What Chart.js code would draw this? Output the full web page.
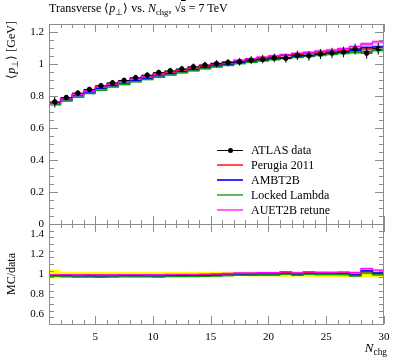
<!DOCTYPE html>
<html><head><meta charset="utf-8">
<script src="https://cdn.jsdelivr.net/npm/chart.js@4.4.1/dist/chart.umd.min.js"></script>
<style>
html,body{margin:0;padding:0;background:#fff;}
#wrap{position:relative;width:397px;height:358px;overflow:hidden;font-family:"Liberation Serif",serif;color:#000;}
canvas{position:absolute;left:0;top:0;}
.t{position:absolute;white-space:nowrap;line-height:1;}
.t sub{font-size:72%;vertical-align:baseline;position:relative;top:0.3em;}
.leg{position:absolute;left:217px;width:26px;height:2px;}
.legt{position:absolute;left:251px;font-size:12px;white-space:nowrap;line-height:1;}
</style></head><body>
<div id="wrap">
<canvas id="top" width="397" height="358"></canvas>
<canvas id="bot" width="397" height="358"></canvas>
<div class="t" style="left:49px;top:2px;font-size:12px;">Transverse ⟨<i>p</i><sub>⊥</sub>⟩ vs. <i>N</i><sub>chg</sub>, √<span style="text-decoration:overline">s</span> = 7 TeV</div>
<div class="t" style="left:5px;top:121px;width:100px;text-align:right;font-size:12px;transform-origin:0 0;transform:rotate(-90deg);">⟨<i>p</i><sub>⊥</sub>⟩ [GeV]</div>
<div class="t" style="left:5px;top:324px;width:100px;text-align:center;font-size:12px;transform-origin:0 0;transform:rotate(-90deg);">MC/data</div>
<div class="t" style="right:10px;top:341px;font-size:13px;"><i>N</i><sub>chg</sub></div>
<div id="legend"></div>
</div>
<script>
// ---- data (bins of N_chg, edges) ----
const nchgEdges = [1,2,3,4,5,6,7,8,9,10,11,12,13,14,15,16,17,18,19,20,21,22,23,24,25,26,27,28,29,30];
const atlasData = [0.763,0.790,0.818,0.841,0.864,0.882,0.897,0.914,0.930,0.946,0.957,0.969,0.982,0.993,1.002,1.009,1.014,1.024,1.030,1.038,1.036,1.054,1.051,1.062,1.069,1.075,1.094,1.068,1.095];
const atlasErr  = [0.035,0.017,0.017,0.017,0.018,0.018,0.018,0.019,0.019,0.019,0.020,0.020,0.021,0.021,0.022,0.023,0.024,0.025,0.026,0.027,0.028,0.029,0.030,0.031,0.032,0.033,0.034,0.035,0.036];
const perugia2011  = [0.757,0.785,0.810,0.833,0.855,0.874,0.891,0.907,0.922,0.936,0.949,0.962,0.974,0.986,0.997,1.007,1.016,1.028,1.037,1.046,1.054,1.061,1.068,1.074,1.080,1.085,1.090,1.094,1.099];
const ambt2b       = [0.750,0.776,0.801,0.824,0.846,0.864,0.880,0.896,0.911,0.926,0.939,0.952,0.964,0.977,0.988,0.998,1.007,1.016,1.024,1.032,1.040,1.047,1.054,1.061,1.068,1.075,1.083,1.103,1.107];
const lockedLambda = [0.745,0.768,0.792,0.815,0.836,0.855,0.872,0.888,0.903,0.917,0.931,0.944,0.957,0.970,0.981,0.992,1.002,1.011,1.020,1.028,1.035,1.042,1.049,1.056,1.062,1.068,1.072,1.077,1.085];
const auet2bRetune = [0.756,0.784,0.810,0.834,0.856,0.875,0.892,0.908,0.924,0.938,0.952,0.965,0.978,0.991,1.003,1.014,1.024,1.034,1.043,1.051,1.059,1.066,1.073,1.080,1.087,1.096,1.108,1.125,1.138];
const mcStatErr    = [0.004,0.004,0.004,0.004,0.004,0.004,0.005,0.005,0.005,0.005,0.005,0.006,0.006,0.006,0.006,0.007,0.007,0.007,0.008,0.008,0.008,0.009,0.009,0.010,0.010,0.011,0.011,0.012,0.013];
const yTicksMain  = [0,0.2,0.4,0.6,0.8,1,1.2];
const yLabelsMain = ['0','0.2','0.4','0.6','0.8','1','1.2'];
const yTicksRatio  = [0.6,0.8,1,1.2,1.4];
const yLabelsRatio = ['0.6','0.8','1','1.2','1.4'];
const xTicks  = [5,10,15,20,25,30];
const xLabels = ['5','10','15','20','25','30'];
const seriesNames = ['ATLAS data','Perugia 2011','AMBT2B','Locked Lambda','AUET2B retune'];
const seriesColors = ['#000000','#ff0000','#0000ff','#00a000','#ff00ff'];
const legendColors = ['#000000','#ff5050','#3030ff','#60b860','#ff60ff'];
const bandColors = ['#ffff00','rgba(255,0,0,0.3)','rgba(0,0,255,0.3)','rgba(0,160,0,0.35)','rgba(255,0,255,0.3)'];
const mcSeries = [perugia2011, ambt2b, lockedLambda, auet2bRetune];

// ---- helpers ----
function histPts(vals){
  const p=[];
  vals.forEach((v,i)=>{p.push({x:nchgEdges[i],y:v});p.push({x:nchgEdges[i+1],y:v});});
  return p;
}
function centers(){return atlasData.map((v,i)=>(nchgEdges[i]+nchgEdges[i+1])/2);}
function errBarPts(vals, errs){
  const p=[]; const c=centers();
  vals.forEach((v,i)=>{
    p.push({x:c[i],y:v-errs[i]});p.push({x:c[i],y:v+errs[i]});p.push({x:c[i],y:null});
    p.push({x:nchgEdges[i],y:v});p.push({x:nchgEdges[i+1],y:v});p.push({x:nchgEdges[i+1],y:null});
  });
  return p;
}
function lineDs(pts,color,order,w){return {type:'line',data:pts,borderColor:color,borderWidth:w||1.3,pointRadius:0,fill:false,order:order,spanGaps:false,tension:0};}
function bandDs(up,lo,color,order){
  return [
    {type:'line',data:up,borderWidth:0,borderColor:'rgba(0,0,0,0)',backgroundColor:color,pointRadius:0,fill:'+1',order:order,tension:0},
    {type:'line',data:lo,borderWidth:0,borderColor:'rgba(0,0,0,0)',pointRadius:0,fill:false,order:order,tension:0}
  ];
}

const framePlugin = {
  id:'frame',
  afterDraw(chart){
    const {ctx, chartArea:a, scales} = chart;
    const xs=scales.x, ys=scales.y;
    const cfg = chart.options.plugins.frame;
    ctx.save();
    ctx.strokeStyle='#8c8c8c'; ctx.lineWidth=1;
    ctx.strokeRect(Math.round(a.left)+0.5, Math.round(a.top)+0.5, Math.round(a.right-a.left)-1, Math.round(a.bottom-a.top));
    ctx.beginPath();
    for(let v=nchgEdges[0]; v<=nchgEdges[nchgEdges.length-1]; v++){
      const px=Math.round(xs.getPixelForValue(v))+0.5;
      const L = xTicks.includes(v)?8:4;
      ctx.moveTo(px,a.top); ctx.lineTo(px,a.top+L);
      ctx.moveTo(px,a.bottom); ctx.lineTo(px,a.bottom-L);
    }
    const step=cfg.minorStep;
    for(let v=ys.min; v<=ys.max+1e-9; v+=step){
      const vv=Math.round(v*1000)/1000;
      const py=Math.round(ys.getPixelForValue(vv))+0.5;
      const isMaj = cfg.major.some(m=>Math.abs(m-vv)<1e-6);
      const L = isMaj?9:5;
      ctx.moveTo(a.left,py); ctx.lineTo(a.left+L,py);
      ctx.moveTo(a.right,py); ctx.lineTo(a.right-L,py);
    }
    ctx.stroke();
    ctx.restore();
  }
};

const tickFont = {family:'Liberation Serif', size:11};

// ---- top panel ----
const topSets = [];
topSets.push({type:'scatter',data:centers().map((c,i)=>({x:c,y:atlasData[i]})),pointRadius:2.3,pointBackgroundColor:'#000',pointBorderColor:'#000',order:0});
topSets.push(lineDs(errBarPts(atlasData,atlasErr),'#000',1,1));
const lineOrders=[5,4,3,2];
mcSeries.forEach((s,k)=>{
  topSets.push(lineDs(histPts(s),seriesColors[k+1],lineOrders[k]));
});
mcSeries.forEach((s,k)=>{
  const up=histPts(s.map((v,i)=>v+mcStatErr[i])), lo=histPts(s.map((v,i)=>v-mcStatErr[i]));
  bandDs(up,lo,bandColors[k+1],10+k).forEach(d=>topSets.push(d));
});

new Chart(document.getElementById('top'),{
  data:{datasets:topSets},
  options:{
    responsive:false, animation:false, devicePixelRatio:1,
    layout:{padding:{left:0,top:24,right:13,bottom:134}},
    plugins:{legend:{display:false},tooltip:{enabled:false},frame:{minorStep:0.05,major:yTicksMain}},
    scales:{
      x:{type:'linear',min:nchgEdges[0],max:nchgEdges[nchgEdges.length-1],display:false},
      y:{type:'linear',min:0,max:1.25,
        afterFit:s=>{s.width=49;},
        afterBuildTicks:s=>{s.ticks=yTicksMain.map(v=>({value:v}));},
        grid:{display:false,drawTicks:false},border:{display:false},
        ticks:{autoSkip:false,padding:5,color:'#000',font:tickFont,callback:(v)=>yLabelsMain[yTicksMain.indexOf(v)]}}
    }
  },
  plugins:[framePlugin]
});

// ---- ratio panel ----
const botSets = [];
mcSeries.forEach((s,k)=>{
  botSets.push(lineDs(histPts(s.map((v,i)=>v/atlasData[i])),seriesColors[k+1],lineOrders[k]));
});
mcSeries.forEach((s,k)=>{
  const up=histPts(s.map((v,i)=>(v+mcStatErr[i])/atlasData[i])), lo=histPts(s.map((v,i)=>(v-mcStatErr[i])/atlasData[i]));
  bandDs(up,lo,bandColors[k+1],10+k).forEach(d=>botSets.push(d));
});
bandDs(histPts(atlasData.map((v,i)=>1+atlasErr[i]/v)),histPts(atlasData.map((v,i)=>1-atlasErr[i]/v)),bandColors[0],20).forEach(d=>botSets.push(d));

new Chart(document.getElementById('bot'),{
  data:{datasets:botSets},
  options:{
    responsive:false, animation:false, devicePixelRatio:1,
    layout:{padding:{left:0,top:224,right:13,bottom:0}},
    plugins:{legend:{display:false},tooltip:{enabled:false},frame:{minorStep:0.2/3,major:yTicksRatio}},
    scales:{
      x:{type:'linear',min:nchgEdges[0],max:nchgEdges[nchgEdges.length-1],
        afterFit:s=>{s.height=34;},
        afterBuildTicks:s=>{s.ticks=xTicks.map(v=>({value:v}));},
        grid:{display:false,drawTicks:false},border:{display:false},
        ticks:{autoSkip:false,maxRotation:0,padding:7,color:'#000',font:tickFont,callback:(v)=>xLabels[xTicks.indexOf(v)]}},
      y:{type:'linear',min:0.5,max:1.5,
        afterFit:s=>{s.width=49;},
        afterBuildTicks:s=>{s.ticks=yTicksRatio.map(v=>({value:v}));},
        grid:{display:false,drawTicks:false},border:{display:false},
        ticks:{autoSkip:false,padding:5,color:'#000',font:tickFont,callback:(v)=>yLabelsRatio[yTicksRatio.indexOf(v)]}}
    }
  },
  plugins:[framePlugin]
});

// ---- legend ----
const legRows=[150,164.5,179.5,195,210];
const lg=document.getElementById('legend');
seriesNames.forEach((n,i)=>{
  const l=document.createElement('div'); l.className='leg';
  l.style.top=(legRows[i]-1)+'px'; l.style.background=legendColors[i];
  if(i===0){l.style.height='1px';l.style.top=(legRows[i]-0.5)+'px';}
  lg.appendChild(l);
  if(i===0){const d=document.createElement('div');d.style.cssText='position:absolute;left:228px;top:'+(legRows[i]-2.5)+'px;width:5px;height:5px;border-radius:50%;background:#000;';lg.appendChild(d);}
  const t=document.createElement('div'); t.className='legt'; t.textContent=n; t.style.top=(legRows[i]-6)+'px';
  lg.appendChild(t);
});
</script>
</body></html>
